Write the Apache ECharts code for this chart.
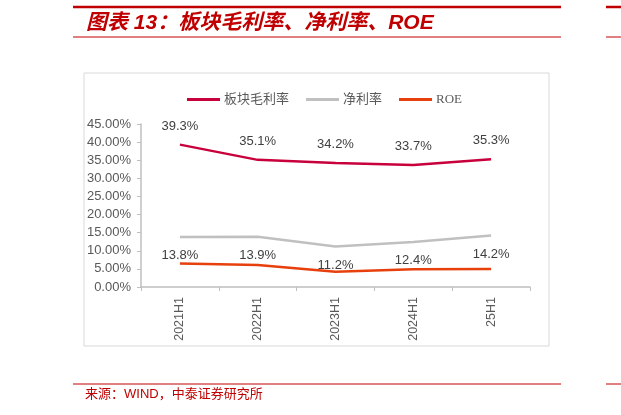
<!DOCTYPE html>
<html>
<head>
<meta charset="utf-8">
<script src="https://cdn.jsdelivr.net/npm/echarts@6/dist/echarts.min.js"></script>
<style>
  html, body { margin: 0; padding: 0; background: #fff; }
  #chart { width: 621px; height: 415px; }
</style>
</head>
<body>
<div id="chart"></div>
<script>
// 图表 13 — 板块毛利率、净利率、ROE
const categories = ["2021H1", "2022H1", "2023H1", "2024H1", "25H1"]
const grossMargin = [39.3, 35.1, 34.2, 33.7, 35.3]
const netMargin = [13.8, 13.9, 11.2, 12.4, 14.2]
const roe = [6.5, 6.1, 4.2, 4.9, 5.0]
const yTicks = { min: 0, max: 45, interval: 5 }

const RED = "#c00000"
const sans = "'Liberation Sans', Arial, 'Noto Sans CJK SC', sans-serif"
const serif = "'Liberation Serif', 'Noto Sans CJK SC', serif"

const myChart = echarts.init(document.getElementById("chart"))

const option = {
  backgroundColor: "#fff",
  animation: false,
  graphic: [
    // header rules
    { type: "line", shape: { x1: 73, y1: 7, x2: 561, y2: 7 }, style: { stroke: RED, lineWidth: 2.5 } },
    { type: "line", shape: { x1: 73, y1: 37, x2: 561, y2: 37 }, style: { stroke: RED, lineWidth: 1 } },
    { type: "line", shape: { x1: 606, y1: 7, x2: 621, y2: 7 }, style: { stroke: RED, lineWidth: 2.5 } },
    { type: "line", shape: { x1: 606, y1: 37, x2: 621, y2: 37 }, style: { stroke: RED, lineWidth: 1 } },
    {
      type: "text", left: 86, top: 13,
      style: {
        text: "图表 13：板块毛利率、净利率、ROE",
        fill: RED, font: "italic bold 21px 'Liberation Sans', 'Noto Sans CJK SC', sans-serif",
      },
    },
    // chart frame
    { type: "rect", shape: { x: 84, y: 73, width: 465, height: 273 }, style: { fill: "none", stroke: "#d9d9d9", lineWidth: 1 } },
    // footer
    { type: "line", shape: { x1: 73, y1: 384, x2: 561, y2: 384 }, style: { stroke: RED, lineWidth: 1 } },
    { type: "line", shape: { x1: 606, y1: 384, x2: 621, y2: 384 }, style: { stroke: RED, lineWidth: 1 } },
    {
      type: "text", left: 85, top: 388,
      style: { text: "来源：WIND，中泰证券研究所", fill: RED, font: "13px 'Liberation Sans', 'Noto Sans CJK SC', sans-serif" },
    },
  ],
  legend: {
    left: 182,
    top: 88,
    icon: "rect",
    itemWidth: 33,
    itemHeight: 3,
    itemGap: 17,
    data: ["板块毛利率", "净利率", "ROE"],
    textStyle: { color: "#595959", fontSize: 13, fontFamily: serif, padding: [0, 0, 0, -1] },
  },
  grid: { left: 141, right: 91, top: 124, bottom: 128, containLabel: false },
  xAxis: {
    type: "category",
    data: categories,
    boundaryGap: true,
    axisLine: { lineStyle: { color: "#bfbfbf", width: 1.5 } },
    axisTick: { show: true, length: 4, interval: 0, lineStyle: { color: "#bfbfbf" } },
    axisLabel: { rotate: 90, margin: 10, interval: 0, color: "#595959", fontSize: 12.5, fontFamily: sans },
  },
  yAxis: {
    type: "value",
    min: yTicks.min,
    max: yTicks.max,
    interval: yTicks.interval,
    axisLine: { show: true, lineStyle: { color: "#bfbfbf", width: 1.5 } },
    axisTick: { show: true, length: 4, lineStyle: { color: "#bfbfbf" } },
    axisLabel: {
      margin: 10,
      color: "#595959",
      fontSize: 13,
      fontFamily: sans,
      formatter: (v) => v.toFixed(2) + "%",
    },
    splitLine: { show: false },
  },
  series: [
    {
      name: "板块毛利率",
      type: "line",
      data: grossMargin,
      symbol: "circle",
      symbolSize: 0,
      showSymbol: true,
      itemStyle: { color: "#c8003c" },
      lineStyle: { width: 2.5 },
      label: {
        show: true, position: "top", distance: 12,
        color: "#404040", fontSize: 13, fontFamily: sans,
        formatter: (p) => p.value.toFixed(1) + "%",
      },
    },
    {
      name: "净利率",
      type: "line",
      data: netMargin,
      symbol: "circle",
      symbolSize: 0,
      showSymbol: true,
      itemStyle: { color: "#c0c0c0" },
      lineStyle: { width: 2.5 },
      label: {
        show: true, position: "bottom", distance: 12,
        color: "#404040", fontSize: 13, fontFamily: sans,
        formatter: (p) => p.value.toFixed(1) + "%",
      },
    },
    {
      name: "ROE",
      type: "line",
      data: roe,
      symbol: "none",
      itemStyle: { color: "#e8400c" },
      lineStyle: { width: 2.5 },
    },
  ],
}

myChart.setOption(option)
</script>
</body>
</html>
